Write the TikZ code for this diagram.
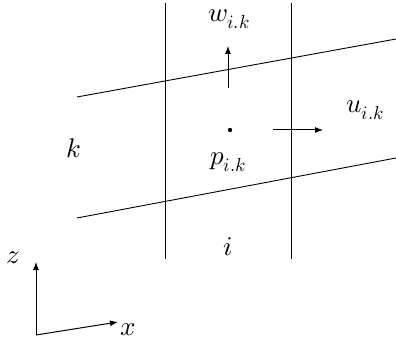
\documentclass[tikz,border=0pt]{standalone}
\usepackage{unicode-math}
\setmathfont{Latin Modern Math}
\usetikzlibrary{arrows.meta}
\begin{document}
\begin{tikzpicture}[x=1pt,y=-1pt,
  lbl/.style={font=\fontsize{27}{32}\selectfont},
  vec/.style={-{Latex[length=8pt,width=6pt]}, line width=1pt}]
  \useasboundingbox (0,0) rectangle (396,342);
  % grid lines
  \draw[line width=0.9pt] (165,3) -- (165,259);
  \draw[line width=0.9pt] (291,3) -- (291,259);
  \draw[line width=0.9pt] (77,97) -- (396,39);
  \draw[line width=0.9pt] (77,218) -- (396,158);
  % cell centre and velocities
  \fill (230,130) circle (2.2pt);
  \coordinate (wfoot) at (228,88);
  \coordinate (whead) at (228,46);
  \coordinate (ufoot) at (273,130);
  \coordinate (uhead) at (323,130);
  \draw[vec] (wfoot) -- (whead);
  \draw[vec] (ufoot) -- (uhead);
  \node[lbl] (w) at (229,19) {$w_{i.k}$};
  \node[lbl] (u) at (365,110) {$u_{i.k}$};
  \node[lbl] (p) at (228,162) {$p_{i.k}$};
  \node[lbl] (k) at (74,148) {$k$};
  \node[lbl] (i) at (228,247) {$i$};
  % axes
  \coordinate (origin) at (36,335);
  \coordinate (zend) at (36,262);
  \coordinate (xend) at (118,322);
  \draw[vec] (origin) -- (zend);
  \draw[vec] (origin) -- (xend);
  \node[lbl] (z) at (13,258) {$z$};
  \node[lbl] (x) at (128,330) {$x$};
\end{tikzpicture}
\end{document}
